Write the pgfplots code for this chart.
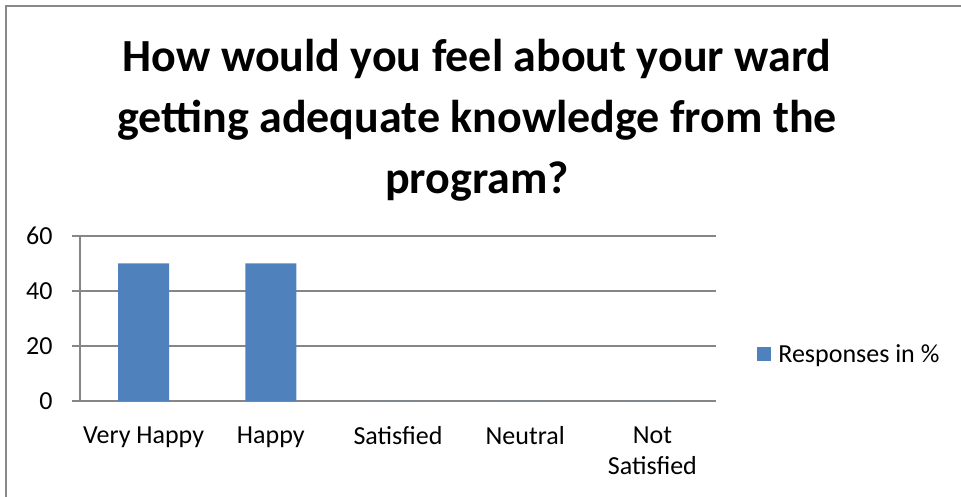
\documentclass[border=0pt]{standalone}
\usepackage{pgfplots}
\pgfplotsset{compat=1.18}
\usepackage{fontspec}
\setmainfont{Carlito}

\definecolor{barblue}{RGB}{79,129,189}
\definecolor{gridgray}{RGB}{134,134,134}
\definecolor{framegray}{RGB}{137,137,137}

\begin{document}
\begin{tikzpicture}
\useasboundingbox (0pt,0pt) rectangle (961pt,497pt);
\draw[framegray, line width=1.5pt] (6pt,-2pt) -- (6pt,491pt) -- (963pt,491pt);

\node[align=center, font=\bfseries\fontsize{46}{61}\selectfont, anchor=center]
  at (477pt,377pt) {How would you feel about your ward\\getting adequate knowledge from the\\program?};

\begin{axis}[
scale only axis,
width=636pt, height=165pt,
at={(80pt,96pt)}, anchor=south west,
/pgf/number format/assume math mode=true,
ymin=0, ymax=60,
ytick={0,20,40,60},
xmin=-0.5, xmax=4.5,
xtick={0,1,2,3,4},
xticklabels={Very Happy,Happy,Satisfied,Neutral,Not\\Satisfied},
xticklabel style={align=center, yshift=-14pt},
major x tick style={draw=none},
extra x ticks={-0.5,0.5,1.5,2.5,3.5,4.5},
extra x tick labels={},
extra x tick style={tick style={gridgray, line width=1.2pt}, major tick length=8pt, grid=none},
ytick style={gridgray, line width=1.2pt},
major tick length=8pt,
tick align=outside,
tick pos=left,
ymajorgrids,
y grid style={gridgray, line width=1.2pt},
axis x line*=bottom,
axis y line*=left,
axis line style={gridgray, line width=1.2pt},
ticklabel style={font=\fontsize{26}{31}\selectfont},
yticklabel style={xshift=-16pt},
ybar,
bar width=51pt,
legend style={at={(1.06,0.285)}, anchor=west, draw=none, font=\fontsize{26}{31}\selectfont, legend cell align=left},
legend image code/.code={\fill[barblue] (0pt,-7pt) rectangle (14pt,7pt); \path (19pt,0pt);},
]
\addplot[fill=barblue, draw=none] coordinates {(0,50) (1,50) (2,0) (3,0) (4,0)};
\addlegendentry{Responses in \%}
\end{axis}
\end{tikzpicture}
\end{document}
